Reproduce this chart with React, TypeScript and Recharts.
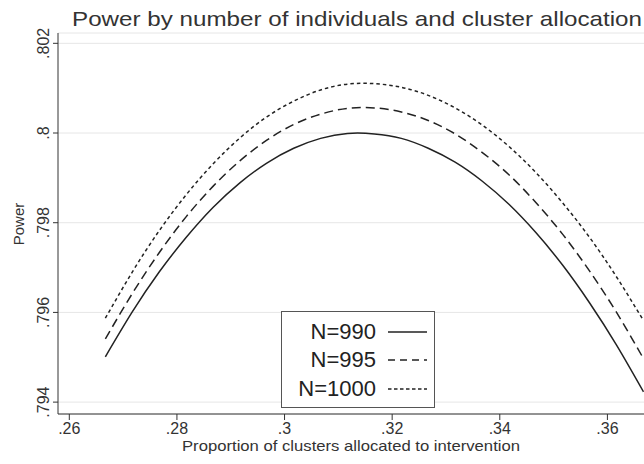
import { LineChart, Line, XAxis, YAxis, CartesianGrid, Legend } from 'recharts'

// proportion of clusters allocated to intervention
const proportion = [
  0.2667, 0.2717, 0.2767, 0.2817, 0.2867, 0.2917, 0.2967, 0.3017, 0.3067, 0.3117, 0.3167,
  0.3217, 0.3267, 0.3317, 0.3367, 0.3417, 0.3467, 0.3517, 0.3567, 0.3617, 0.3667,
]

const powerN990 = [
  0.79501, 0.79601, 0.7969, 0.79767, 0.79834, 0.79889, 0.79933, 0.79966, 0.79988, 0.79999, 0.79998,
  0.79988, 0.79966, 0.79935, 0.79893, 0.79841, 0.79778, 0.79705, 0.79621, 0.79527, 0.79423,
]

const powerN995 = [
  0.79541, 0.79642, 0.79733, 0.79813, 0.79881, 0.79938, 0.79984, 0.80019, 0.80042, 0.80055, 0.80056,
  0.80047, 0.80028, 0.79998, 0.79957, 0.79907, 0.79845, 0.79774, 0.79692, 0.796, 0.79497,
]

const powerN1000 = [
  0.79587, 0.7969, 0.79782, 0.79862, 0.79931, 0.79989, 0.80036, 0.80071, 0.80096, 0.80109, 0.8011,
  0.80102, 0.80084, 0.80056, 0.80018, 0.7997, 0.79912, 0.79844, 0.79767, 0.79679, 0.79582,
]

const xTicks = [0.26, 0.28, 0.3, 0.32, 0.34, 0.36]
const yTicks = [0.794, 0.796, 0.798, 0.8, 0.802]

const series = [
  { key: 'n990', name: 'N=990', dash: undefined, legendDash: undefined },
  { key: 'n995', name: 'N=995', dash: '9 5', legendDash: '7 5' },
  { key: 'n1000', name: 'N=1000', dash: '3.5 3', legendDash: '3.5 2.5' },
]

const data = proportion.map((x, i) => ({
  x,
  n990: powerN990[i],
  n995: powerN995[i],
  n1000: powerN1000[i],
}))

const font = '"Liberation Sans", Arial, Helvetica, sans-serif'
const ink = '#333'
const lineColor = '#222'

// stata style: .8 instead of 0.8
const stripZero = (v: number) => String(v).replace(/^0\./, '.')

function YTick({ y, payload }: any) {
  return (
    <text
      x={44}
      y={y}
      transform={`rotate(-90 44 ${y})`}
      textAnchor="middle"
      dominantBaseline="central"
      fill={ink}
      fontSize={16}
      fontFamily={font}
    >
      {stripZero(payload.value)}
    </text>
  )
}

function LegendBox() {
  return (
    <div
      style={{
        width: 154,
        height: 97,
        border: '1px solid #555',
        background: '#fff',
        boxSizing: 'border-box',
        paddingTop: 6,
        fontFamily: font,
      }}
    >
      {series.map((s) => (
        <div key={s.key} style={{ display: 'flex', alignItems: 'center', height: 28.3 }}>
          <span style={{ width: 94, textAlign: 'right', fontSize: 22, color: '#222', lineHeight: 1 }}>{s.name}</span>
          <svg width={40} height={10} style={{ marginLeft: 12 }}>
            <line x1={0} x2={39} y1={5} y2={5} stroke={lineColor} strokeWidth={1.5} strokeDasharray={s.legendDash} />
          </svg>
        </div>
      ))}
    </div>
  )
}

export default function App() {
  return (
    <div style={{ position: 'relative', width: 644, height: 464, background: '#fff', overflow: 'hidden' }}>
      <style>{'body{margin:0}'}</style>
      <LineChart width={644} height={464} data={data} margin={{ top: 33, right: 0, left: 0, bottom: 0 }}>
        <CartesianGrid horizontal vertical={false} stroke="#e6e6e6" />
        <XAxis
          type="number"
          dataKey="x"
          domain={[0.2579, 0.3668]}
          allowDataOverflow
          ticks={xTicks}
          tickFormatter={stripZero}
          height={50}
          tickSize={6}
          tickMargin={3}
          stroke={ink}
          tick={{ fill: ink, fontSize: 16, fontFamily: font }}
          label={{
            content: () => (
              <text x={351} y={451} textAnchor="middle" fill={ink} fontSize={15} fontFamily={font} textLength={338} lengthAdjust="spacingAndGlyphs">
                Proportion of clusters allocated to intervention
              </text>
            ),
          }}
        />
        <YAxis
          type="number"
          domain={[0.793735, 0.80223]}
          allowDataOverflow
          ticks={yTicks}
          width={58}
          tickSize={5}
          stroke={ink}
          tick={<YTick />}
          label={{
            content: () => (
              <text x={18} y={224} transform="rotate(-90 18 224)" textAnchor="middle" dominantBaseline="central" fill={ink} fontSize={15} fontFamily={font}>
                Power
              </text>
            ),
          }}
        />
        <Legend
          layout="vertical"
          align="center"
          verticalAlign="middle"
          content={<LegendBox />}
          wrapperStyle={{ left: 281, top: 311, width: 154, height: 97 }}
        />
        {series.map((s) => (
          <Line
            key={s.key}
            type="natural"
            dataKey={s.key}
            name={s.name}
            stroke={lineColor}
            strokeWidth={1.5}
            strokeDasharray={s.dash}
            dot={false}
            activeDot={false}
            isAnimationActive={false}
          />
        ))}
      </LineChart>
      <svg width={644} height={40} style={{ position: 'absolute', left: 0, top: 0 }}>
        <text x={357} y={25.5} textAnchor="middle" fill={ink} fontSize={21} fontFamily={font} textLength={570} lengthAdjust="spacingAndGlyphs">
          Power by number of individuals and cluster allocation
        </text>
      </svg>
    </div>
  )
}
